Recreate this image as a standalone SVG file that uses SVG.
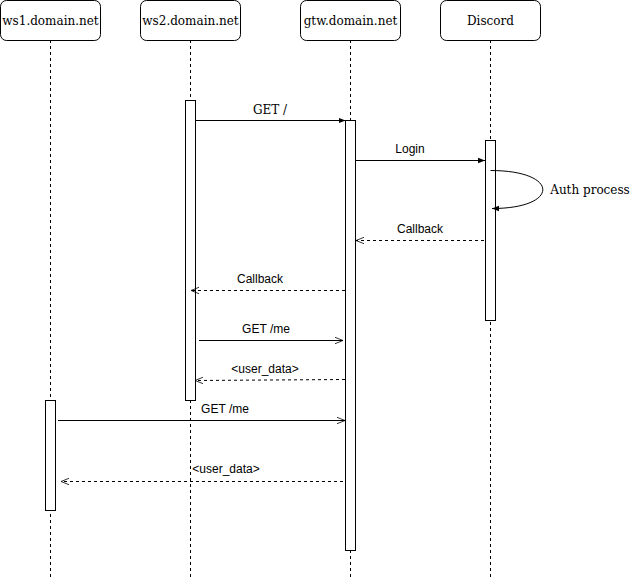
<svg xmlns="http://www.w3.org/2000/svg" width="631" height="581" viewBox="0 0 631 581">
<defs>
<style>
.box{fill:#fff;stroke:#000;stroke-width:1}
.life{stroke:#000;stroke-width:1;stroke-dasharray:3 3;fill:none}
.act{fill:#fff;stroke:#000;stroke-width:1}
.msg{stroke:#000;stroke-width:1;fill:none}
.ret{stroke:#000;stroke-width:1;fill:none;stroke-dasharray:3 3}
.hdr{font-family:"DejaVu Serif",serif;font-size:12px;text-anchor:middle;fill:#000}
.lbl{font-family:"Liberation Sans",Arial,sans-serif;font-size:12px;text-anchor:middle;fill:#000}
.slbl{font-family:"DejaVu Serif",serif;font-size:12px;text-anchor:middle;fill:#000}
</style>
<marker id="block" viewBox="0 0 10 10" refX="10" refY="5" markerWidth="7" markerHeight="7" markerUnits="userSpaceOnUse" orient="auto"><path d="M0,1 L10,5 L0,9 Z" fill="#000"/></marker>
<marker id="open" viewBox="0 0 10 10" refX="10" refY="5" markerWidth="8" markerHeight="8" markerUnits="userSpaceOnUse" orient="auto"><path d="M0,1 L10,5 L0,9" fill="none" stroke="#000" stroke-width="1"/></marker>
</defs>
<g id="ws1">
<line class="life" x1="50.5" y1="40" x2="50.5" y2="580"/>
<rect class="box" x="0.5" y="0.5" width="100" height="40" rx="6"/>
<text class="hdr" x="50.5" y="25">ws1.domain.net</text>
<rect class="act" x="45.5" y="400.5" width="10" height="110"/>
</g>
<g id="ws2">
<line class="life" x1="190.5" y1="40" x2="190.5" y2="580"/>
<rect class="box" x="140.5" y="0.5" width="100" height="40" rx="6"/>
<text class="hdr" x="190.5" y="25">ws2.domain.net</text>
<rect class="act" x="185.5" y="100.5" width="10" height="300"/>
</g>
<g id="gtw">
<line class="life" x1="350.5" y1="40" x2="350.5" y2="580"/>
<rect class="box" x="300.5" y="0.5" width="100" height="40" rx="6"/>
<text class="hdr" x="350.5" y="25">gtw.domain.net</text>
<rect class="act" x="345.5" y="120.5" width="10" height="430"/>
</g>
<g id="discord">
<line class="life" x1="490.5" y1="40" x2="490.5" y2="580"/>
<rect class="box" x="440.5" y="0.5" width="100" height="40" rx="6"/>
<text class="hdr" x="490.5" y="25">Discord</text>
<rect class="act" x="485.5" y="140.5" width="10" height="180"/>
</g>
<g id="connectors">
<line class="msg" x1="195.5" y1="120.5" x2="345.5" y2="120.5" marker-end="url(#block)"/>
<text class="slbl" x="270" y="114">GET /</text>
<line class="msg" x1="355.5" y1="160.5" x2="485" y2="160.5" marker-end="url(#block)"/>
<text class="lbl" x="410" y="153">Login</text>
<path class="msg" d="M490.5,170.5 C560,170.5 560,208.5 492,208.5" marker-end="url(#block)"/>
<text class="slbl" x="590" y="194">Auth process</text>
<line class="ret" x1="484" y1="240.5" x2="356" y2="240.5" marker-end="url(#open)"/>
<text class="lbl" x="420" y="233">Callback</text>
<line class="ret" x1="345" y1="290.5" x2="191" y2="290.5" marker-end="url(#open)"/>
<text class="lbl" x="260" y="283">Callback</text>
<line class="msg" x1="199" y1="340.5" x2="343" y2="340.5" marker-end="url(#open)"/>
<text class="lbl" x="266" y="333">GET /me</text>
<line class="ret" x1="345" y1="379.5" x2="195" y2="380.5" marker-end="url(#open)"/>
<text class="lbl" x="265" y="373">&lt;user_data&gt;</text>
<line class="msg" x1="58" y1="420.5" x2="345" y2="420.5" marker-end="url(#open)"/>
<text class="lbl" x="225" y="413">GET /me</text>
<line class="ret" x1="343" y1="481.5" x2="61" y2="481.5" marker-end="url(#open)"/>
<text class="lbl" x="226" y="473">&lt;user_data&gt;</text>
</g>
</svg>
